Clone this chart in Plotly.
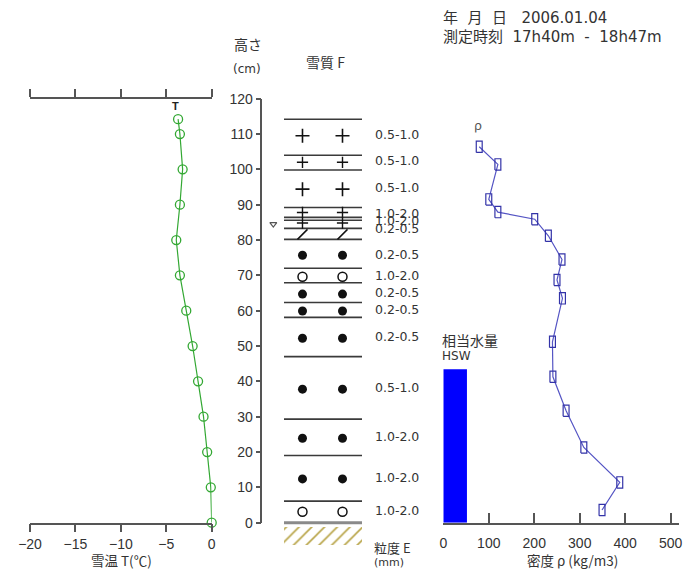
import plotly.graph_objects as go

W, H = 693, 569

# ---------------- data ----------------
temp_heights = [114.2, 110, 100, 90, 80, 70, 60, 50, 40, 30, 20, 10, 0]
temp_values = [-3.7, -3.5, -3.2, -3.5, -3.9, -3.5, -2.8, -2.1, -1.5, -0.9, -0.5, -0.1, 0.0]
air_temp = -4.0
air_temp_height = 117.6

rho_heights = [106.4, 101.4, 91.5, 87.9, 85.9, 81.2, 74.5, 68.7, 63.5, 51.2, 41.3, 31.7, 21.3, 11.4, 3.6]
rho_values = [79, 120, 100, 120, 201, 231, 261, 250, 262, 240, 241, 270, 309, 388, 349]

hsw_height = 43.4
hsw_width = 52

layer_bounds = [114.2, 104, 99.8, 89.2, 86.4, 85.6, 83.3, 80.2, 72, 67.9, 62.3, 58.1, 47, 29.3, 19, 6.1]
plus_big = [109.5, 94.4]
plus_small = [102, 87.8, 84.8]
slash_h = [81.6]
filled_h = [75.7, 64.7, 59.9, 52.2, 37.8, 23.9, 12.4]
open_h = [69.6, 3.1]
marker_tri_h = [84.5]

grain_heights = [109.5, 102, 94.4, 87.1, 85.2, 82.8, 75.6, 69.6, 64.8, 60, 52.3, 38, 24, 12.5, 3.1]
grain_labels = ["0.5-1.0", "0.5-1.0", "0.5-1.0", "1.0-2.0", "1.0-2.0", "0.2-0.5", "0.2-0.5",
                "1.0-2.0", "0.2-0.5", "0.2-0.5", "0.2-0.5", "0.5-1.0", "1.0-2.0", "1.0-2.0", "1.0-2.0"]

height_ticks = list(range(0, 121, 10))
temp_ticks = [-20, -15, -10, -5, 0]
rho_ticks = [0, 100, 200, 300, 400, 500]

# ---------------- helpers (pixel -> paper) ----------------
def px(x):
    return x / W

def py(y):
    return 1 - y / H

Y0, Y120 = 522.7, 98.7
ppc = (Y0 - Y120) / 120.0
ydom = [py(Y0), py(Y120)]
full_lo = (Y0 - H) / ppc
full_hi = Y0 / ppc

# snow column: 0 -> 284 px, 1 -> 362 px
C0, C1 = 284.0, 362.0
cw = C1 - C0
col_dom_px = (266.0, 440.0)
col_range = [(col_dom_px[0] - C0) / cw, (col_dom_px[1] - C0) / cw]

AX = "#555555"
TXT = "#333333"
GREEN = "#33a833"
BLUE_L = "#5555c4"
BLUE_M = "#3333a8"

fig = go.Figure()

# temperature profile
fig.add_trace(go.Scatter(
    x=temp_values, y=temp_heights, xaxis="x", yaxis="y", mode="lines+markers",
    line=dict(color=GREEN, width=1.2),
    marker=dict(symbol="circle-open", size=9, color=GREEN, line=dict(width=1.3)),
    cliponaxis=False, hoverinfo="skip"))
fig.add_trace(go.Scatter(
    x=[air_temp], y=[air_temp_height], xaxis="x", yaxis="y", mode="text", text=["<b>T</b>"],
    textfont=dict(size=11, color="#222222", family="Liberation Sans"), cliponaxis=False))

# density profile
fig.add_trace(go.Scatter(
    x=rho_values, y=rho_heights, xaxis="x2", yaxis="y", mode="lines",
    line=dict(color=BLUE_L, width=1.2), cliponaxis=False))
dx, dh = 6.5, 1.6
rx, ry = [], []
for r, h in zip(rho_values, rho_heights):
    rx += [r - dx, r + dx, r + dx, r - dx, r - dx, None]
    ry += [h - dh, h - dh, h + dh, h + dh, h - dh, None]
fig.add_trace(go.Scatter(x=rx, y=ry, xaxis="x2", yaxis="y", mode="lines",
                         line=dict(color=BLUE_M, width=1.2), cliponaxis=False))

# HSW bar
fig.add_trace(go.Bar(x=[hsw_width / 2], y=[hsw_height], width=[hsw_width], base=[0],
                     xaxis="x2", yaxis="y", marker=dict(color="#0000ff", line=dict(width=0))))

# snow column: layer boundaries
lx, ly = [], []
for h in layer_bounds:
    lx += [0, 1, None]
    ly += [h, h, None]
fig.add_trace(go.Scatter(x=lx, y=ly, xaxis="x3", yaxis="y4", mode="lines",
                         line=dict(color="#3a3a3a", width=1.6), cliponaxis=False))
# ground
fig.add_trace(go.Bar(x=[0.5], y=[5.1], base=[-6.3], width=[1], xaxis="x3", yaxis="y4",
                     marker=dict(color="white", line=dict(width=0),
                                 pattern=dict(shape="/", fgcolor="#b8a447", bgcolor="white",
                                              size=9, solidity=0.18))))
fig.add_trace(go.Scatter(x=[0, 1], y=[0, 0], xaxis="x3", yaxis="y4", mode="lines",
                         line=dict(color="#8a8a8a", width=3), cliponaxis=False))

colx = [0.237, 0.75]

def pair(hs):
    xs, ys = [], []
    for h in hs:
        xs += colx
        ys += [h, h]
    return xs, ys

for hs, sym, size, lw in [(plus_big, "cross-thin", 10, 1.6), (plus_small, "cross-thin", 8, 1.4),
                           (slash_h, "line-ne", 10, 1.5), (filled_h, "circle", 9, 0),
                           (open_h, "circle-open", 9, 1.5)]:
    xs, ys = pair(hs)
    fig.add_trace(go.Scatter(x=xs, y=ys, xaxis="x3", yaxis="y4", mode="markers",
                             marker=dict(symbol=sym, size=size, color="#111111",
                                         line=dict(width=lw, color="#111111")),
                             cliponaxis=False))

fig.add_trace(go.Scatter(x=[-0.137] * len(marker_tri_h), y=marker_tri_h, xaxis="x3", yaxis="y4",
                         mode="markers", marker=dict(symbol="triangle-down-open", size=6,
                                                     color="#555555", line=dict(width=1.2)),
                         cliponaxis=False))

fig.add_trace(go.Scatter(x=[1.167] * len(grain_heights), y=grain_heights, xaxis="x3", yaxis="y4",
                         mode="text", text=grain_labels, textposition="middle right",
                         textfont=dict(size=12.5, color=TXT, family="DejaVu Sans"),
                         cliponaxis=False))

# ---------------- layout ----------------
tickfont = dict(size=14, color=TXT, family="Liberation Sans")
line_common = dict(showline=True, linecolor=AX, linewidth=1.5, tickcolor=AX, tickwidth=1.5,
                   showgrid=False, zeroline=False, automargin=False)

fig.update_layout(
    template="none",
    width=W, height=H, margin=dict(l=0, r=0, t=0, b=0, pad=0, autoexpand=False),
    paper_bgcolor="white", plot_bgcolor="rgba(0,0,0,0)", showlegend=False,
    font=dict(family="Liberation Sans, Noto Sans CJK JP", color=TXT),
    xaxis=dict(domain=[px(30), px(211.7)], range=[-20, 0], anchor="y", tickvals=temp_ticks,
               ticks="outside", ticklen=8, mirror="ticks", tickfont=tickfont, **line_common),
    xaxis4=dict(overlaying="x", range=[-20, 0], anchor="y", tickvals=temp_ticks,
                ticks="inside", ticklen=8, mirror="ticks", showticklabels=False, **line_common),
    xaxis2=dict(domain=[px(443.3), px(679)], range=[0, 500 * (679 - 443.3) / (670.7 - 443.3)],
                anchor="y", tickvals=rho_ticks, ticks="inside", ticklen=10, tickfont=tickfont,
                ticklabelstandoff=7, **line_common),
    xaxis3=dict(domain=[px(col_dom_px[0]), px(col_dom_px[1])], range=col_range, anchor="y4",
                visible=False, automargin=False),
    yaxis=dict(domain=ydom, range=[0, 120], anchor="free", position=px(261.3), side="left",
               tickvals=height_ticks, ticks="outside", ticklen=5, tickfont=tickfont, **line_common),
    yaxis3=dict(overlaying="y", range=[0, 120], anchor="free", position=px(261.3), side="left",
                tickvals=height_ticks, ticks="inside", ticklen=4, showticklabels=False, **line_common),
    yaxis2=dict(overlaying="y", range=[0, 120], anchor="free", position=px(670.7), side="right",
                tickvals=height_ticks, ticks="inside", ticklen=7, showticklabels=False, **line_common),
    yaxis4=dict(domain=[0, 1], range=[full_lo, full_hi], anchor="x3", visible=False,
                automargin=False),
)

def ann(text, x, y, size, xanchor="left", color=TXT, family="Noto Sans CJK JP, Liberation Sans"):
    fig.add_annotation(text=text, x=px(x), y=py(y), xref="paper", yref="paper",
                       xanchor=xanchor, yanchor="middle", showarrow=False,
                       font=dict(size=size, color=color, family=family))

HDR = "DejaVu Sans, Noto Sans CJK JP"
ann("年&nbsp;&nbsp;月&nbsp;&nbsp;日&nbsp;&nbsp;&nbsp;2006.01.04", 441, 18, 15, family=HDR)
ann("測定時刻&nbsp;&nbsp;17h40m&nbsp;&nbsp;-&nbsp;&nbsp;18h47m", 441, 37, 15, family=HDR)
ann("高さ", 232, 44, 14)
ann("(cm)", 231, 69, 12, family="DejaVu Sans")
ann("雪質 F", 304, 62, 14)
ann("粒度 E", 372, 547, 13)
ann("(mm)", 372, 562, 11, family="DejaVu Sans")
ann("雪温 T(℃)", 121, 559.5, 13.5, xanchor="center")
ann("密度 ρ (kg/m3)", 572, 559.5, 13.5, xanchor="center")
ann("相当水量", 440, 340, 14)
ann("HSW", 440, 356, 12, family="DejaVu Sans")
ann("ρ", 478, 125, 13, xanchor="center", color="#555555")

fig.write_html("out.html", config={"displayModeBar": False},
               post_script="document.body.style.margin='0';document.body.style.overflow='hidden';")
